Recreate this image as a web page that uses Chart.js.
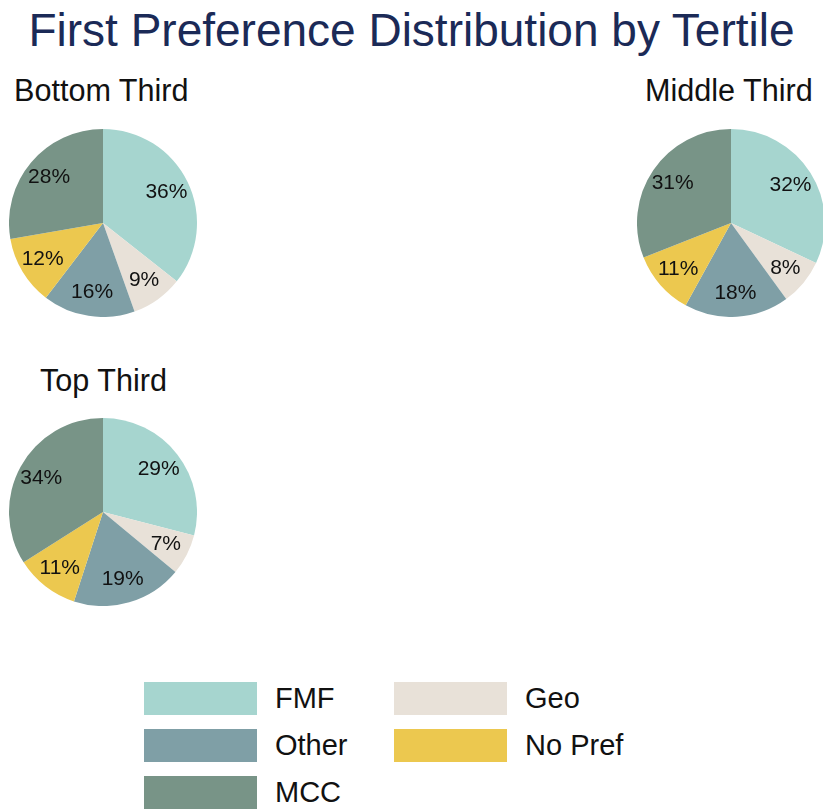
<!DOCTYPE html>
<html>
<head>
<meta charset="utf-8">
<script src="https://cdn.jsdelivr.net/npm/chart.js@4/dist/chart.umd.min.js"></script>
<style>
  html, body { margin: 0; padding: 0; background: #ffffff; }
  body { width: 823px; height: 809px; position: relative; overflow: hidden; font-family: "Liberation Sans", Arial, sans-serif; }
  .title { position: absolute; left: 0; width: 823px; top: 3px; text-align: center; font-size: 46px; color: #1b2a57; white-space: nowrap; }
  .sub { position: absolute; font-size: 30.6px; color: #111; white-space: nowrap; }
  .pie { position: absolute; width: 188px; height: 188px; }
  .sw { position: absolute; width: 113px; height: 33px; }
  .lt { position: absolute; font-size: 29px; color: #111; white-space: nowrap; line-height: 33px; }
</style>
</head>
<body>
<div class="title">First Preference Distribution by Tertile</div>

<div class="sub" style="left:14px; top:73px;">Bottom Third</div>
<div class="sub" style="left:645px; top:73px;">Middle Third</div>
<div class="sub" style="left:40px; top:363px;">Top Third</div>

<div class="pie" style="left:9px; top:129px;"><canvas id="pieBottom"></canvas></div>
<div class="pie" style="left:637px; top:129px;"><canvas id="pieMiddle"></canvas></div>
<div class="pie" style="left:9px; top:418px;"><canvas id="pieTop"></canvas></div>

<div id="legend"></div>

<script>
// Preference categories, in clockwise order from 12 o'clock
const categories = ["FMF", "Geo", "Other", "No Pref", "MCC"];
const colors = ["#a6d5cf", "#e8e1d8", "#7f9fa6", "#ecc84f", "#789487"];

// Share of first preferences (%) per tertile
const bottomThird = [36, 9, 16, 12, 28];
const middleThird = [32, 8, 18, 11, 31];
const topThird    = [29, 7, 19, 11, 34];

// Legend layout: two columns
const legendCols = [["FMF", "Other", "MCC"], ["Geo", "No Pref"]];

// Percentage labels placed inside each slice
const sliceLabels = {
  id: "sliceLabels",
  afterDatasetsDraw(chart) {
    const ctx = chart.ctx;
    const meta = chart.getDatasetMeta(0);
    const values = chart.data.datasets[0].data;
    ctx.save();
    ctx.font = "21px 'Liberation Sans', Arial, sans-serif";
    ctx.fillStyle = "#111111";
    ctx.textAlign = "center";
    ctx.textBaseline = "middle";
    meta.data.forEach((arc, i) => {
      const p = arc.getProps(["x", "y", "startAngle", "endAngle", "outerRadius"], true);
      const mid = (p.startAngle + p.endAngle) / 2;
      const r = p.outerRadius * 0.75;
      ctx.fillText(values[i] + "%", p.x + Math.cos(mid) * r, p.y + Math.sin(mid) * r);
    });
    ctx.restore();
  }
};

function makePie(id, values) {
  new Chart(document.getElementById(id), {
    type: "pie",
    data: {
      labels: categories,
      datasets: [{ data: values, backgroundColor: colors, borderWidth: 0 }]
    },
    options: {
      responsive: true,
      maintainAspectRatio: false,
      animation: false,
      layout: { padding: 0 },
      plugins: { legend: { display: false }, tooltip: { enabled: false } }
    },
    plugins: [sliceLabels]
  });
}

makePie("pieBottom", bottomThird);
makePie("pieMiddle", middleThird);
makePie("pieTop", topThird);

// Legend
const legend = document.getElementById("legend");
const colX = [144, 394];
const rowY = [682, 729, 776];
legendCols.forEach((col, c) => {
  col.forEach((name, r) => {
    const idx = categories.indexOf(name);
    const sw = document.createElement("div");
    sw.className = "sw";
    sw.style.left = colX[c] + "px";
    sw.style.top = rowY[r] + "px";
    sw.style.background = colors[idx];
    legend.appendChild(sw);
    const t = document.createElement("div");
    t.className = "lt";
    t.style.left = (colX[c] + 131) + "px";
    t.style.top = rowY[r] + "px";
    t.textContent = name;
    legend.appendChild(t);
  });
});
</script>
</body>
</html>
